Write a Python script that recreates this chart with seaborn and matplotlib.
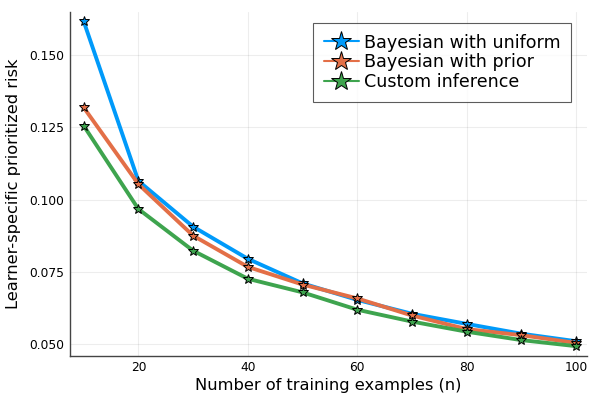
import seaborn as sns
import matplotlib.pyplot as plt
import pandas as pd

# Data
n_examples = [10, 20, 30, 40, 50, 60, 70, 80, 90, 100]
bayes_uniform = [0.1617, 0.1065, 0.0907, 0.0796, 0.0711, 0.0654, 0.0606, 0.0571, 0.0537, 0.0511]
bayes_prior = [0.1319, 0.1054, 0.0876, 0.0768, 0.0707, 0.0659, 0.0600, 0.0553, 0.0532, 0.0505]
custom_inference = [0.1256, 0.0968, 0.0824, 0.0727, 0.0680, 0.0620, 0.0579, 0.0544, 0.0515, 0.0494]
series_names = ['Bayesian with uniform', 'Bayesian with prior', 'Custom inference']
colors = ['#009AFA', '#E36F47', '#3EA44E']

df = pd.DataFrame({
    'n': n_examples * 3,
    'risk': bayes_uniform + bayes_prior + custom_inference,
    'method': [series_names[0]] * 10 + [series_names[1]] * 10 + [series_names[2]] * 10,
})

sns.set_style('white')
plt.rcParams['font.family'] = ['DejaVu Sans']
plt.rcParams['text.color'] = 'black'
plt.rcParams['axes.labelcolor'] = 'black'
plt.rcParams['xtick.color'] = 'black'
plt.rcParams['ytick.color'] = 'black'

fig = plt.figure(figsize=(6, 4), dpi=100)
ax = fig.add_axes([70 / 600, 1 - 355.7 / 400, (587 - 70) / 600, (355.7 - 12) / 400])

sns.lineplot(data=df, x='n', y='risk', hue='method', palette=colors,
             linewidth=2.8, marker='*', markersize=7.5, markeredgecolor='black',
             markeredgewidth=0.7, dashes=False, ax=ax)

ax.set_xlim(7.5, 102)
ax.set_ylim(0.0461, 0.1649)
ax.set_xticks([20, 40, 60, 80, 100])
ax.set_yticks([0.050, 0.075, 0.100, 0.125, 0.150])
ax.set_yticklabels(['0.050', '0.075', '0.100', '0.125', '0.150'])
ax.grid(True, color='black', alpha=0.07, linewidth=0.8)
for side in ['top', 'right']:
    ax.spines[side].set_visible(False)
for side in ['left', 'bottom']:
    ax.spines[side].set_color('#444444')
    ax.spines[side].set_linewidth(1.0)
ax.tick_params(axis='both', labelsize=8.8, direction='in', length=3, color='#444444', pad=4)

ax.set_xlabel('Number of training examples (n)', fontsize=11.7, labelpad=3)
ax.set_ylabel('Learner-specific prioritized risk', fontsize=11.7, labelpad=6)

leg = ax.legend(loc='upper right', fontsize=12.6, frameon=True, fancybox=False,
                edgecolor='#333333', borderpad=0.6, labelspacing=0.1,
                handlelength=2.0, handletextpad=0.3, borderaxespad=0,
                markerscale=2.0, bbox_to_anchor=(571 / 600, 1 - 23 / 400),
                bbox_transform=fig.transFigure)
leg.get_frame().set_linewidth(0.8)
for line in leg.get_lines():
    line.set_linewidth(1.5)

plt.savefig('out.png', dpi=100)
